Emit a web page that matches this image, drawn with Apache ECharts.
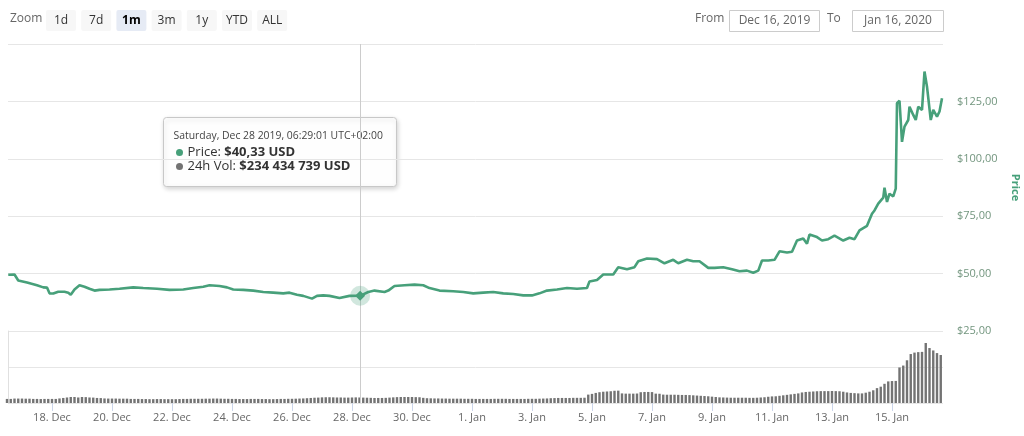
<!DOCTYPE html>
<html>
<head>
<meta charset="utf-8">
<title>Price chart</title>
<script src="https://cdn.jsdelivr.net/npm/echarts@6/dist/echarts.min.js"></script>
<style>
html, body { margin: 0; padding: 0; background: #fff; }
#chart { width: 1024px; height: 436px; }
</style>
</head>
<body>
<div id="chart"></div>
<script>
// price, USD (time, value)
var priceData = [
  ['2019-12-16 13:00', 49.5], ['2019-12-16 18:00', 49.6], ['2019-12-16 21:00', 47.0],
  ['2019-12-17 04:00', 46.1], ['2019-12-17 12:00', 44.9], ['2019-12-17 17:00', 44.0],
  ['2019-12-17 20:00', 43.9], ['2019-12-17 22:00', 41.4], ['2019-12-18 01:00', 41.3],
  ['2019-12-18 05:00', 42.1], ['2019-12-18 10:00', 42.1], ['2019-12-18 13:00', 41.7],
  ['2019-12-18 15:00', 40.8], ['2019-12-18 18:00', 43.1], ['2019-12-18 22:00', 44.9],
  ['2019-12-19 02:00', 44.3], ['2019-12-19 06:00', 43.4], ['2019-12-19 10:00', 42.6],
  ['2019-12-19 14:00', 42.9], ['2019-12-19 22:00', 43.1], ['2019-12-20 06:00', 43.4],
  ['2019-12-20 17:00', 44.0], ['2019-12-21 01:00', 43.7], ['2019-12-21 12:00', 43.4],
  ['2019-12-21 22:00', 42.9], ['2019-12-22 09:00', 43.1], ['2019-12-22 17:00', 43.7],
  ['2019-12-23 01:00', 44.3], ['2019-12-23 06:00', 44.9], ['2019-12-23 14:00', 44.6],
  ['2019-12-23 20:00', 44.0], ['2019-12-24 01:00', 43.1], ['2019-12-24 09:00', 42.9],
  ['2019-12-24 17:00', 42.6], ['2019-12-25 01:00', 42.0], ['2019-12-25 09:00', 41.7],
  ['2019-12-25 17:00', 41.4], ['2019-12-25 22:00', 41.7], ['2019-12-26 04:00', 40.8],
  ['2019-12-26 09:00', 40.3], ['2019-12-26 16:00', 39.1], ['2019-12-26 20:00', 40.3],
  ['2019-12-27 01:00', 40.5], ['2019-12-27 06:00', 40.3], ['2019-12-27 14:00', 39.4],
  ['2019-12-27 22:00', 40.3], ['2019-12-28 06:29', 40.33], ['2019-12-28 13:00', 42.0],
  ['2019-12-28 18:00', 42.6], ['2019-12-29 02:00', 42.0], ['2019-12-29 05:00', 42.6],
  ['2019-12-29 10:00', 44.6], ['2019-12-29 18:00', 44.9], ['2019-12-30 02:00', 45.2],
  ['2019-12-30 09:00', 44.9], ['2019-12-30 14:00', 43.7], ['2019-12-30 22:00', 42.6],
  ['2019-12-31 09:00', 42.3], ['2019-12-31 17:00', 42.0], ['2020-01-01 01:00', 41.4],
  ['2020-01-01 09:00', 41.7], ['2020-01-01 17:00', 42.0], ['2020-01-02 01:00', 41.4],
  ['2020-01-02 09:00', 41.1], ['2020-01-02 17:00', 40.5], ['2020-01-03 00:00', 40.5],
  ['2020-01-03 06:00', 41.4], ['2020-01-03 12:00', 42.6], ['2020-01-03 20:00', 43.1],
  ['2020-01-04 04:00', 43.7], ['2020-01-04 12:00', 43.4], ['2020-01-04 20:00', 43.7],
  ['2020-01-04 22:00', 46.6], ['2020-01-05 04:00', 47.2], ['2020-01-05 09:00', 49.6],
  ['2020-01-05 17:00', 49.6], ['2020-01-05 21:00', 52.8], ['2020-01-06 04:00', 51.9],
  ['2020-01-06 10:00', 52.8], ['2020-01-06 13:00', 55.4], ['2020-01-06 20:00', 56.6],
  ['2020-01-07 04:00', 56.3], ['2020-01-07 10:00', 54.5], ['2020-01-07 17:00', 56.0],
  ['2020-01-07 21:00', 54.5], ['2020-01-08 04:00', 56.0], ['2020-01-08 09:00', 55.4],
  ['2020-01-08 14:00', 55.4], ['2020-01-08 21:00', 52.5], ['2020-01-09 02:00', 52.5],
  ['2020-01-09 09:00', 52.8], ['2020-01-09 16:00', 51.9], ['2020-01-09 22:00', 51.0],
  ['2020-01-10 04:00', 51.3], ['2020-01-10 09:00', 50.4], ['2020-01-10 13:00', 51.3],
  ['2020-01-10 16:00', 55.7], ['2020-01-10 21:00', 55.7], ['2020-01-11 02:00', 56.0],
  ['2020-01-11 06:00', 59.7], ['2020-01-11 12:00', 59.2], ['2020-01-11 16:00', 59.5],
  ['2020-01-11 20:00', 64.4], ['2020-01-12 01:00', 65.3], ['2020-01-12 04:00', 63.0],
  ['2020-01-12 06:00', 67.0], ['2020-01-12 12:00', 65.9], ['2020-01-12 16:00', 64.4],
  ['2020-01-12 21:00', 65.0], ['2020-01-13 02:00', 66.5], ['2020-01-13 09:00', 64.4],
  ['2020-01-13 14:00', 65.6], ['2020-01-13 18:00', 65.0], ['2020-01-13 22:00', 68.8],
  ['2020-01-14 04:00', 70.8], ['2020-01-14 08:00', 76.1], ['2020-01-14 10:00', 77.5],
  ['2020-01-14 13:00', 80.5], ['2020-01-14 17:00', 83.1], ['2020-01-14 18:00', 87.4],
  ['2020-01-14 20:00', 81.2], ['2020-01-14 22:00', 84.8], ['2020-01-15 01:00', 83.6],
  ['2020-01-15 03:00', 87.0], ['2020-01-15 04:00', 124.2], ['2020-01-15 06:00', 125.3],
  ['2020-01-15 08:00', 107.4], ['2020-01-15 10:00', 114.0], ['2020-01-15 13:00', 116.9],
  ['2020-01-15 14:00', 122.7], ['2020-01-15 17:00', 119.1], ['2020-01-15 19:00', 116.9],
  ['2020-01-15 21:00', 122.7], ['2020-01-16 00:00', 121.3], ['2020-01-16 02:00', 138.0],
  ['2020-01-16 04:00', 131.4], ['2020-01-16 07:00', 116.9], ['2020-01-16 09:00', 121.3],
  ['2020-01-16 12:00', 118.4], ['2020-01-16 14:00', 120.6], ['2020-01-16 16:00', 126.4]
];

// 24h volume, millions USD, one bar every 3 hours
var volumeStart = '2019-12-16 12:00';
var volumeStepHours = 3;
var volumeValues = [
  170, 170, 185, 185,
  185, 180, 180, 170, 170, 165, 170, 170,
  170, 170, 190, 210, 230, 250, 250, 230,
  250, 245, 230, 225, 210, 205, 190, 185,
  185, 185, 180, 180, 180, 170, 170, 170,
  165, 165, 160, 160, 165, 165, 160, 160,
  160, 160, 165, 170, 170, 175, 175, 175,
  175, 180, 180, 185, 185, 180, 175, 175,
  170, 170, 165, 165, 165, 170, 170, 170,
  165, 165, 160, 160, 165, 170, 170, 175,
  175, 180, 185, 190, 200, 210, 220, 225,
  235, 240, 240, 235, 230, 230, 225, 225,
  230, 234, 230, 225, 220, 215, 210, 210,
  210, 215, 225, 235, 245, 250, 250, 250,
  250, 245, 240, 215, 200, 195, 190, 190,
  185, 185, 180, 180, 180, 180, 175, 175,
  175, 170, 170, 170, 170, 170, 175, 175,
  175, 175, 170, 170, 170, 170, 170, 175,
  175, 175, 180, 185, 190, 200, 205, 210,
  210, 210, 210, 215, 215, 215, 220, 350,
  380, 420, 450, 470, 480, 490, 510, 515,
  400, 390, 390, 390, 395, 450, 460, 460,
  455, 390, 385, 350, 345, 345, 345, 340,
  335, 335, 330, 320, 310, 300, 290, 280,
  265, 250, 235, 230, 225, 220, 220, 220,
  220, 220, 215, 215, 220, 230, 240, 260,
  275, 280, 300, 320, 340, 360, 380, 400,
  440, 460, 470, 480, 490, 495, 495, 495,
  500, 495, 490, 470, 440, 420, 410, 400,
  400, 430, 470, 530, 620, 680, 800, 900,
  915, 920, 1480, 1560, 1780, 2040, 2100, 2120,
  2130, 2500, 2290, 2190, 2080, 2000
];

var dateTicks = [
  '2019-12-18 00:00', '2019-12-20 00:00', '2019-12-22 00:00', '2019-12-24 00:00',
  '2019-12-26 00:00', '2019-12-28 00:00', '2019-12-30 00:00', '2020-01-01 00:00',
  '2020-01-03 00:00', '2020-01-05 00:00', '2020-01-07 00:00', '2020-01-09 00:00',
  '2020-01-11 00:00', '2020-01-13 00:00', '2020-01-15 00:00'
];
var priceTicks = [25, 50, 75, 100, 125, 150];
var rangeStart = '2019-12-16 12:48';
var rangeEnd = '2020-01-16 16:48';

var hoverTime = '2019-12-28 06:29:01';
var hoverPrice = 40.33;
var hoverVolume = 234434739;

var zoomButtons = ['1d', '7d', '1m', '3m', '1y', 'YTD', 'ALL'];
var selectedZoom = '1m';
var monthNames = ['Jan', 'Feb', 'Mar', 'Apr', 'May', 'Jun', 'Jul', 'Aug', 'Sep', 'Oct', 'Nov', 'Dec'];

var lineColor = '#47a07a';
var volColor = '#737373';
var font = '"Open Sans", sans-serif';

function toTs(s) {
  return new Date(s.replace(' ', 'T')).getTime();
}
function money(v) {
  return '$' + v.toFixed(2).replace('.', ',');
}

var priceSeries = priceData.map(function (p) { return [toTs(p[0]), p[1]]; });
var t0 = toTs(volumeStart);
var volumeSeries = volumeValues.map(function (v, i) {
  return [t0 + i * volumeStepHours * 3600000, v];
});
var tickValues = dateTicks.map(toTs);
var xMin = toTs(rangeStart), xMax = toTs(rangeEnd);
var hoverTs = toTs(hoverTime);

var graphics = [];
graphics.push({
  type: 'text', left: 10, top: 13,
  style: { text: 'Zoom', fill: '#666', font: '12px ' + font }
});
zoomButtons.forEach(function (b, i) {
  var sel = b === selectedZoom;
  graphics.push({
    type: 'group', left: 46 + i * 35.2, top: 10,
    children: [
      { type: 'rect', shape: { x: 0, y: 0, width: 30, height: 21, r: 2 },
        style: { fill: sel ? '#e6ebf5' : '#f7f7f7' } },
      { type: 'text', x: 15, y: 10.5,
        style: { text: b, fill: sel ? '#000' : '#333', align: 'center', verticalAlign: 'middle',
                 font: (sel ? 'bold ' : '') + '12px ' + font } }
    ]
  });
});
// date range inputs
graphics.push({ type: 'text', left: 695, top: 13, style: { text: 'From', fill: '#666', font: '12px ' + font } });
graphics.push({
  type: 'group', left: 729, top: 10,
  children: [
    { type: 'rect', shape: { x: 0, y: 0, width: 90, height: 21 }, style: { fill: '#fff', stroke: '#cccccc', lineWidth: 1 } },
    { type: 'text', x: 45, y: 10.5, style: { text: 'Dec 16, 2019', fill: '#666', align: 'center', verticalAlign: 'middle', font: '12px ' + font } }
  ]
});
graphics.push({ type: 'text', left: 827, top: 13, style: { text: 'To', fill: '#666', font: '12px ' + font } });
graphics.push({
  type: 'group', left: 852, top: 10,
  children: [
    { type: 'rect', shape: { x: 0, y: 0, width: 91, height: 21 }, style: { fill: '#fff', stroke: '#cccccc', lineWidth: 1 } },
    { type: 'text', x: 45.5, y: 10.5, style: { text: 'Jan 16, 2020', fill: '#666', align: 'center', verticalAlign: 'middle', font: '12px ' + font } }
  ]
});
// tooltip box
var d = new Date(hoverTs);
var days = ['Sunday', 'Monday', 'Tuesday', 'Wednesday', 'Thursday', 'Friday', 'Saturday'];
var tipDate = days[d.getDay()] + ', ' + monthNames[d.getMonth()] + ' ' + d.getDate() + ' ' + d.getFullYear() +
  ', 06:29:01 UTC+02:00';
var volText = '$' + String(hoverVolume).replace(/\B(?=(\d{3})+(?!\d))/g, ' ') + ' USD';
graphics.push({
  type: 'group', left: 163, top: 117, z: 100,
  children: [
    { type: 'rect', shape: { x: 0, y: 0, width: 233, height: 69, r: 3 },
      style: { fill: 'rgba(255,255,255,0.96)', stroke: '#c8c8c8', lineWidth: 1,
               shadowBlur: 5, shadowOffsetX: 1, shadowOffsetY: 2, shadowColor: 'rgba(0,0,0,0.18)' } },
    { type: 'text', x: 10, y: 19, style: { text: tipDate, fill: '#444', verticalAlign: 'middle', font: '10.4px ' + font } },
    { type: 'circle', shape: { cx: 16, cy: 35, r: 3.5 }, style: { fill: lineColor } },
    { type: 'text', x: 24, y: 35, style: {
        text: '{n|Price: }{b|' + money(hoverPrice) + ' USD}', verticalAlign: 'middle',
        rich: { n: { fill: '#333', font: '13px ' + font }, b: { fill: '#333', font: 'bold 13px ' + font } } } },
    { type: 'circle', shape: { cx: 16, cy: 49, r: 3.5 }, style: { fill: volColor } },
    { type: 'text', x: 24, y: 49, style: {
        text: '{n|24h Vol: }{b|' + volText + '}', verticalAlign: 'middle',
        rich: { n: { fill: '#333', font: '13px ' + font }, b: { fill: '#333', font: 'bold 13px ' + font } } } }
  ]
});

var chart = echarts.init(document.getElementById('chart'), null, { renderer: 'canvas' });
var option = {
  animation: false,
  textStyle: { fontFamily: font },
  grid: [
    { left: 8, right: 81, top: 44, height: 287, outerBoundsMode: 'none', containLabel: false },
    { left: 8, right: 81, top: 331, height: 72, outerBoundsMode: 'none', containLabel: false }
  ],
  xAxis: [
    { type: 'value', gridIndex: 0, min: xMin, max: xMax,
      axisLine: { show: false }, axisTick: { show: false }, axisLabel: { show: false }, splitLine: { show: false } },
    { type: 'value', gridIndex: 1, min: xMin, max: xMax,
      axisLine: { show: false },
      axisTick: { show: true, customValues: tickValues, length: 8, lineStyle: { color: '#ccd6eb' } },
      axisLabel: {
        customValues: tickValues, color: '#666', fontSize: 11, margin: 9, fontFamily: font,
        formatter: function (v) {
          var dt = new Date(v);
          return dt.getDate() + '. ' + monthNames[dt.getMonth()];
        }
      },
      splitLine: { show: false } }
  ],
  yAxis: [
    { type: 'value', gridIndex: 0, position: 'right',
      min: priceTicks[0], max: priceTicks[priceTicks.length - 1], interval: 25,
      axisLine: { show: false }, axisTick: { show: false },
      axisLabel: {
        color: '#73967f', fontSize: 11, margin: 14, fontFamily: font,
        formatter: function (v) { return v === 150 ? '' : money(v); }
      },
      splitLine: { lineStyle: { color: '#e6e6e6' } },
      name: 'Price', nameLocation: 'middle', nameRotate: -90, nameGap: 67,
      nameTextStyle: { color: lineColor, fontWeight: 'bold', fontSize: 11, fontFamily: font } },
    { type: 'value', gridIndex: 1, position: 'left', min: 0, max: 3000, interval: 1500,
      axisLine: { show: true, lineStyle: { color: '#e0e0e0' } }, axisTick: { show: false },
      axisLabel: { show: false },
      splitLine: { lineStyle: { color: '#e6e6e6' } } }
  ],
  series: [
    {
      name: 'Price', type: 'line', xAxisIndex: 0, yAxisIndex: 0,
      data: priceSeries, showSymbol: false, z: 3,
      lineStyle: { color: lineColor, width: 2.6 },
      itemStyle: { color: lineColor },
      markLine: {
        silent: true, symbol: 'none', label: { show: false },
        lineStyle: { color: '#cccccc', width: 1, type: 'solid' },
        data: [{ xAxis: hoverTs }]
      },
      markPoint: {
        silent: true, label: { show: false },
        data: [
          { coord: [hoverTs, hoverPrice], symbol: 'circle', symbolSize: 20,
            itemStyle: { color: 'rgba(71,160,122,0.25)' } },
          { coord: [hoverTs, hoverPrice], symbol: 'diamond', symbolSize: 10,
            itemStyle: { color: lineColor } }
        ]
      }
    },
    {
      name: '24h Vol', type: 'bar', xAxisIndex: 1, yAxisIndex: 1,
      data: volumeSeries, barWidth: 2.4,
      itemStyle: { color: volColor },
      markLine: {
        silent: true, symbol: 'none', label: { show: false },
        lineStyle: { color: '#cccccc', width: 1, type: 'solid' },
        data: [{ xAxis: hoverTs }]
      }
    }
  ],
  graphic: graphics
};
chart.setOption(option);
window.addEventListener('resize', function () {
  chart.resize();
});
</script>
</body>
</html>
